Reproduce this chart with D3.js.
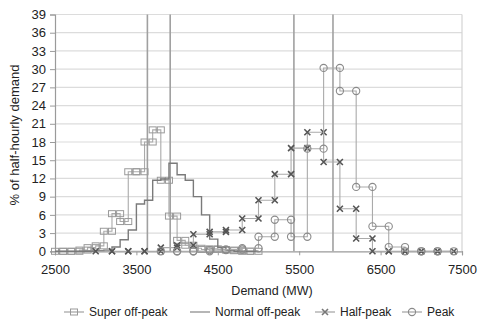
<!DOCTYPE html>
<meta charset="utf-8">
<body style="margin:0;background:#fff">
<script src="https://cdn.jsdelivr.net/npm/d3@7/dist/d3.min.js"></script>
<script>
// bin edges (MW) and % of half-hourly demand in each bin
var superEdges = [2500,2600,2700,2800,2900,3000,3100,3200,3300,3400,3500,3600,3700,3800,3900,4000,4100,4200,4300,4400,4500,4600,4700,4800,4900,5000];
var superOffPeak = [0,0,0,0.2,0.6,0.9,3.3,6.2,4.9,13.1,13.1,18.0,20.0,11.7,5.8,1.8,1.0,0.5,0.3,0.4,0.3,0.2,0.1,0,0];

var normalEdges = [2500,2600,2700,2800,2900,3000,3100,3200,3300,3400,3500,3600,3700,3800,3900,4000,4100,4200,4300,4400,4500,4600,4700,4800,4900,5000];
var normalOffPeak = [0,0,0,0,0,0.1,0.2,0.7,1.9,3.5,7.8,8.4,11.7,11.9,14.5,12.6,11.7,9.0,6.0,2.0,0.6,0.2,0,0,0];

var halfEdges = [3000,3200,3400,3600,3800,4000,4200,4400,4600,4800,5000,5200,5400,5600,5800,6000,6200,6400,6600,6800,7000,7200,7400];
var halfPeak = [0,0,0,0,0.6,1.0,2.8,3.2,3.5,5.4,8.4,12.7,17.0,19.6,14.7,7.0,2.1,0,0,0,0,0];

var peakEdges = [3800,4000,4200,4400,4600,4800,5000,5200,5400,5600,5800,6000,6200,6400,6600,6800,7000,7200,7400];
var peak = [0,0,0,0.2,0.3,0.5,2.4,5.2,2.4,16.9,30.2,26.4,10.6,4.1,0.7,0,0,0];

// mean demand of each tariff period
var means = [3635, 3915, 5435, 5915];

var xTicks = [2500,3500,4500,5500,6500,7500];
var yTicks = [0,3,6,9,12,15,18,21,24,27,30,33,36,39];

var W = 483, H = 322;
var x = d3.scaleLinear().domain([2500, 7500]).range([55, 462]);
var y = d3.scaleLinear().domain([0, 39]).range([251.3, 14.5]);

var svg = d3.select("body").append("svg")
    .attr("width", W).attr("height", H)
    .style("font-family", "'Liberation Sans', Arial, sans-serif");

// grid
svg.append("g").selectAll("line").data(yTicks.slice(1)).enter().append("line")
    .attr("x1", x(2500)).attr("x2", x(7500))
    .attr("y1", function(d){ return y(d); }).attr("y2", function(d){ return y(d); })
    .attr("stroke", "#dcdcdc").attr("stroke-width", 1.2);
svg.append("line").attr("x1", x(7500)).attr("x2", x(7500))
    .attr("y1", y(39)).attr("y2", y(0)).attr("stroke", "#d4d4d4").attr("stroke-width", 1.2);

// axes
var yAxis = svg.append("g").attr("transform", "translate(" + x(2500) + ",0)")
    .call(d3.axisLeft(y).tickValues(yTicks).tickSize(5).tickPadding(4));
var xAxis = svg.append("g").attr("transform", "translate(0," + y(0) + ")")
    .call(d3.axisBottom(x).tickValues(xTicks).tickSize(4).tickPadding(9).tickFormat(d3.format("d")));
[yAxis, xAxis].forEach(function(a){
  a.select(".domain").attr("stroke", "#9a9a9a").attr("stroke-width", 1.2);
  a.selectAll(".tick line").attr("stroke", "#9a9a9a");
  a.selectAll("text").attr("fill", "#222").style("font-size", "13px")
    .style("font-family", "'Liberation Sans', Arial, sans-serif");
});

// mean lines
svg.append("g").selectAll("line").data(means).enter().append("line")
    .attr("x1", function(d){ return x(d); }).attr("x2", function(d){ return x(d); })
    .attr("y1", y(39)).attr("y2", y(0))
    .attr("stroke", "#a0a0a0").attr("stroke-width", 1.6);

function stepPoints(edges, vals) {
  var pts = [];
  vals.forEach(function(v, i){
    pts.push([edges[i], v]);
    pts.push([edges[i + 1], v]);
  });
  return pts;
}

var line = d3.line().x(function(d){ return x(d[0]); }).y(function(d){ return y(d[1]); });

var series = [
  {name: "Super off-peak", pts: stepPoints(superEdges, superOffPeak), stroke: "#aaa", marker: "square", mcol: "#999"},
  {name: "Normal off-peak", pts: stepPoints(normalEdges, normalOffPeak), stroke: "#7a7a7a", marker: null},
  {name: "Half-peak", pts: stepPoints(halfEdges, halfPeak), stroke: "#aaa", marker: "cross", mcol: "#555"},
  {name: "Peak", pts: stepPoints(peakEdges, peak), stroke: "#aaa", marker: "circle", mcol: "#8a8a8a"}
];

function drawMarker(g, type, cx, cy, col) {
  if (type === "square") {
    g.append("rect").attr("x", cx - 3.5).attr("y", cy - 3).attr("width", 7).attr("height", 6)
      .attr("fill", "none").attr("stroke", col).attr("stroke-width", 1);
  } else if (type === "circle") {
    g.append("circle").attr("cx", cx).attr("cy", cy).attr("r", 3.6)
      .attr("fill", "none").attr("stroke", col).attr("stroke-width", 1.1);
  } else if (type === "cross") {
    g.append("path").attr("d", "M" + (cx - 3) + "," + (cy - 3) + "L" + (cx + 3) + "," + (cy + 3) +
      "M" + (cx - 3) + "," + (cy + 3) + "L" + (cx + 3) + "," + (cy - 3))
      .attr("stroke", col).attr("stroke-width", 1.6).attr("fill", "none");
  }
}

series.forEach(function(s){
  var g = svg.append("g");
  g.append("path").attr("d", line(s.pts)).attr("fill", "none")
    .attr("stroke", s.stroke).attr("stroke-width", s.marker ? 1.1 : 1.4);
  if (s.marker) {
    s.pts.forEach(function(p){ drawMarker(g, s.marker, x(p[0]), y(p[1]), s.mcol); });
  }
});

// titles
svg.append("text").attr("x", 272).attr("y", 295).attr("text-anchor", "middle")
    .attr("fill", "#222").style("font-size", "12.5px").text("Demand (MW)");
svg.append("text").attr("transform", "translate(19,135) rotate(-90)").attr("text-anchor", "middle")
    .attr("fill", "#222").style("font-size", "13px").text("% of half-hourly demand");

// legend
var legendX = [74, 200, 325, 412];
var lg = svg.append("g");
series.forEach(function(s, i){
  var cx = legendX[i], cy = 312;
  lg.append("line").attr("x1", cx - 10).attr("x2", cx + 10).attr("y1", cy).attr("y2", cy)
    .attr("stroke", s.marker ? "#999" : "#7a7a7a").attr("stroke-width", 1.1);
  if (s.marker) drawMarker(lg, s.marker, cx, cy, s.mcol === "#555" ? "#777" : s.mcol);
  lg.append("text").attr("x", cx + 15).attr("y", cy + 4.3).attr("fill", "#222")
    .style("font-size", "12px").text(s.name);
});
</script>
</body>
